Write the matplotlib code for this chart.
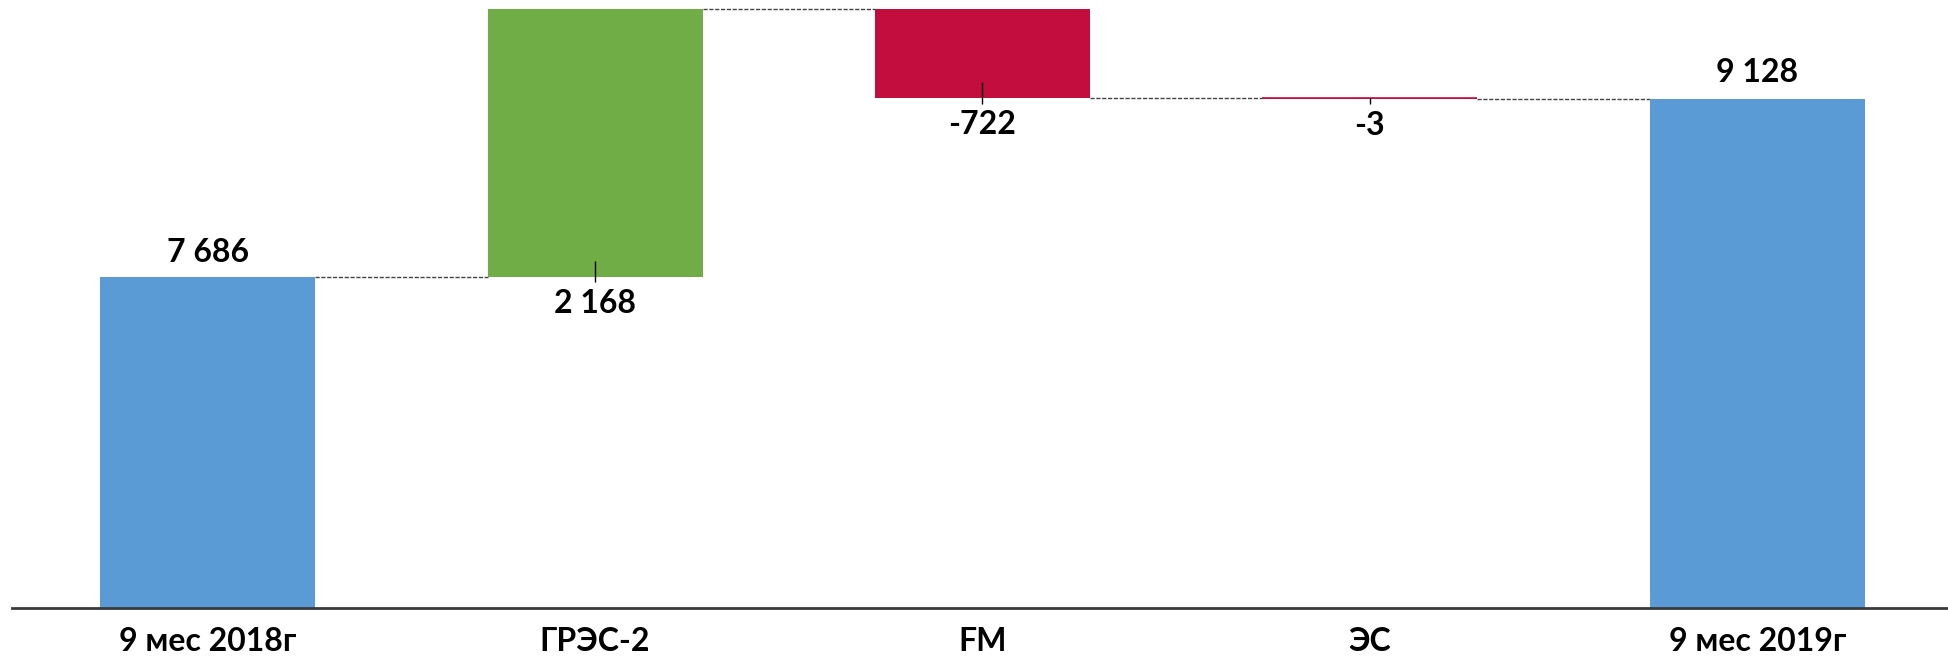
import matplotlib
matplotlib.use("Agg")
import matplotlib.pyplot as plt

categories = ["9 мес 2018г", "ГРЭС-2", "FM", "ЭС", "9 мес 2019г"]
start_value = 7686
deltas = [2168, -722, -3]
end_value = 9128

blue = "#5B9BD5"
green = "#70AD47"
red = "#C30D3F"

plt.rcParams["font.family"] = ["Lato", "DejaVu Sans"]
plt.rcParams["font.weight"] = "bold"
fs = 23

fig = plt.figure(figsize=(19.49, 6.57), dpi=100)
ax = fig.add_axes([12 / 1949, 49 / 657, 1 - 12 / 1949, 608 / 657])

width = 0.555
ymin, ymax = 5000, 9929

# bars: totals and floating deltas
bottoms = [ymin]
heights = [start_value - ymin]
colors = [blue]
level = start_value
levels = [start_value]
for d in deltas:
    if d >= 0:
        bottoms.append(level)
        heights.append(d)
        colors.append(green)
    else:
        bottoms.append(level + d)
        heights.append(-d)
        colors.append(red)
    level += d
    levels.append(level)
bottoms.append(ymin)
heights.append(end_value - ymin)
colors.append(blue)

x = list(range(len(categories)))
ax.bar(x, heights, width=width, bottom=bottoms, color=colors, zorder=2)
# the ЭС bar is only a few units tall, draw it as a thin line so it shows
ax.hlines(levels[-1] + 1.5, 3 - width / 2, 3 + width / 2, color=red, lw=1.2, zorder=3)

# dashed connectors between bars
for i in range(len(categories) - 1):
    ax.hlines(levels[i], i + width / 2, i + 1 - width / 2,
              color="#444444", lw=1, linestyles=(0, (3, 1.2)), zorder=1)

# labels for totals
ax.text(0, start_value + 200, "{:,}".format(start_value).replace(",", " "),
        ha="center", va="center", fontsize=fs, fontweight="bold")
ax.text(4, end_value + 210, "{:,}".format(end_value).replace(",", " "),
        ha="center", va="center", fontsize=fs, fontweight="bold")

# labels for deltas, under the bar bottom with a short leader line
for i, d in enumerate(deltas, start=1):
    b = bottoms[i]
    t = bottoms[i] + heights[i]
    ax.vlines(i, b - 45, min(t, b + 130), color="black", lw=1, zorder=4)
    ax.text(i, b - 215, "{:,}".format(d).replace(",", " "),
            ha="center", va="center", fontsize=fs, fontweight="bold")

ax.set_xlim(-0.505, 4.495)
ax.set_ylim(ymin, ymax)
ax.set_xticks(x)
ax.set_xticklabels(categories, fontsize=fs, fontweight="bold")
ax.tick_params(axis="x", length=0, pad=14)
ax.set_yticks([])
for s in ["left", "right", "top"]:
    ax.spines[s].set_visible(False)
ax.spines["bottom"].set_color("#3a3a3a")
ax.spines["bottom"].set_linewidth(2)

fig.savefig("out.png", dpi=100)
